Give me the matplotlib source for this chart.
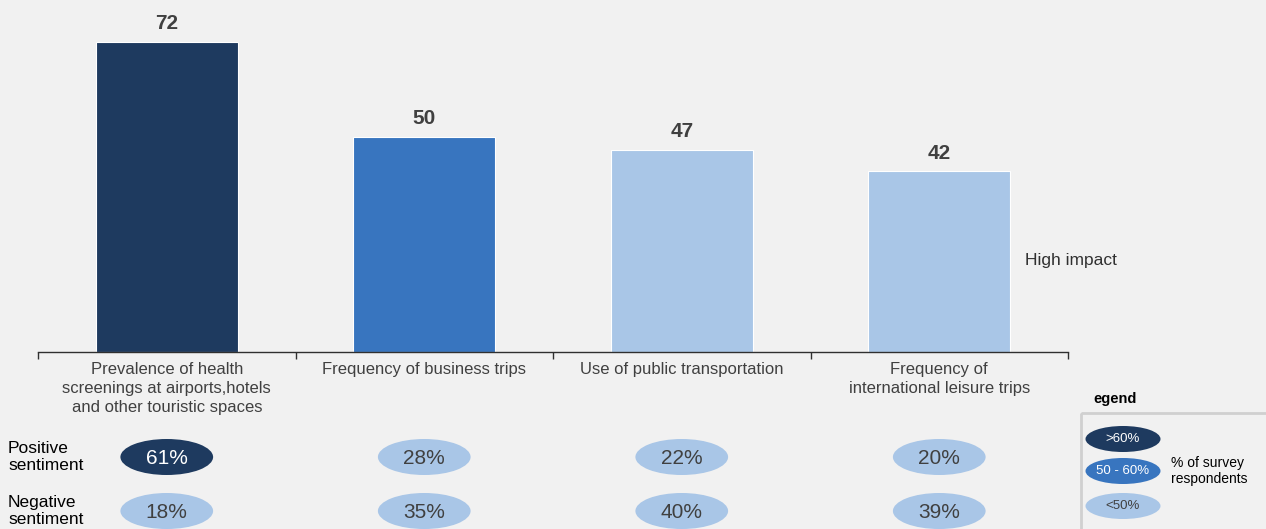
import numpy as np
import matplotlib.pyplot as plt
from matplotlib.patches import Ellipse, Rectangle
from matplotlib.transforms import blended_transform_factory

plt.rcParams['font.family'] = ['Liberation Sans', 'DejaVu Sans']

# --- Data ---
categories = [
    "Prevalence of health\nscreenings at airports,hotels\nand other touristic spaces",
    "Frequency of business trips",
    "Use of public transportation",
    "Frequency of\ninternational leisure trips",
]
impact = [72, 50, 47, 42]
positive = [61, 28, 22, 20]
negative = [18, 35, 40, 39]
row_labels = ["Positive\nsentiment", "Negative\nsentiment"]
legend_labels = [">60%", "50 - 60%", "<50%"]

DARK, MID, LIGHT = "#1e3a5f", "#3875bf", "#a9c6e7"
BG = "#f1f1f1"


def shade(v):
    if v > 60:
        return DARK
    if v >= 50:
        return MID
    return LIGHT


def text_on(color):
    return "white" if color in (DARK, MID) else "#404040"


W, H = 1266, 529
fig = plt.figure(figsize=(W / 100, H / 100), dpi=100, facecolor=BG)

# overlay in pixel coordinates (y down) for everything below the bars
ov = fig.add_axes([0, 0, 1, 1], facecolor="none")
ov.set_xlim(0, W)
ov.set_ylim(H, 0)
ov.axis("off")

# --- Bars ---
x0, x1, base = 38, 1068, 352
ax = fig.add_axes([x0 / W, (H - base) / H, (x1 - x0) / W, base / H], facecolor="none")
x = np.arange(len(categories))
ax.bar(x, impact, width=0.55, color=[shade(v) for v in impact],
       edgecolor="white", linewidth=0.8)
ax.set_xlim(-0.5, len(categories) - 0.5)
ax.set_ylim(0, 81.75)
for xi, v in zip(x, impact):
    ax.text(xi, v + 2.0, str(v), ha="center", va="bottom", fontsize=15,
            fontweight="bold", color="#404040")

for s in ("top", "right", "left"):
    ax.spines[s].set_visible(False)
ax.spines["bottom"].set_color("#303030")
ax.spines["bottom"].set_linewidth(1.0)
ax.set_yticks([])
ax.set_xticks(np.arange(len(categories) + 1) - 0.5)
ax.set_xticklabels([])
ax.tick_params(axis="x", direction="out", length=5, width=1, color="#303030")

tr = blended_transform_factory(ax.transData, ov.transData)
for xi, lab in zip(x, categories):
    ax.text(xi, 362, lab, transform=tr, ha="center", va="top", fontsize=12,
            color="#404040", linespacing=1.35)

ov.text(1025, 261, "High impact", ha="left", va="center", fontsize=12.5,
        color="#303030")

# --- Sentiment rows ---
for row_y, vals, lab in zip([457, 511], [positive, negative], row_labels):
    ov.text(8, row_y, lab, ha="left", va="center", fontsize=12.5,
            color="black", linespacing=1.1)
    for xi, v in zip(x, vals):
        c = shade(v)
        ov.add_patch(Ellipse((xi, row_y), 0.36, 36, transform=tr, facecolor=c,
                             edgecolor="none", clip_on=False))
        ov.text(xi, row_y + 1, f"{v}%", transform=tr, ha="center", va="center",
                fontsize=15, color=text_on(c))

# --- Legend ---
ov.text(1093, 399, "egend", ha="left", va="center", fontsize=10.5,
        fontweight="bold", color="black")
ov.add_patch(Rectangle((1081, 413), 200, 130, facecolor="none",
                       edgecolor="#d0d0d0", linewidth=2, clip_on=False))
for ly, lab, c in zip([439, 471, 506], legend_labels, [DARK, MID, LIGHT]):
    ov.add_patch(Ellipse((1123, ly), 75, 26, facecolor=c, edgecolor="none"))
    ov.text(1123, ly, lab, ha="center", va="center", fontsize=9.5,
            color=text_on(c))
ov.text(1171, 471, "% of survey\nrespondents", ha="left", va="center",
        fontsize=10, color="black", linespacing=1.2)

fig.savefig("out.png", dpi=100, facecolor=BG)
